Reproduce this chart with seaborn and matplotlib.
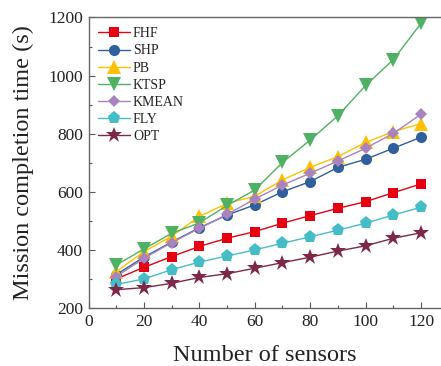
import matplotlib
matplotlib.use("Agg")
import matplotlib.pyplot as plt
from matplotlib.ticker import MultipleLocator
import seaborn as sns
import pandas as pd

# Number of sensors deployed
sensors = [10, 20, 30, 40, 50, 60, 70, 80, 90, 100, 110, 120]

# Mission completion time (s) for each scheme
fhf = [300, 340, 377, 412, 440, 463, 492, 518, 543, 566, 597, 627]
shp = [315, 375, 427, 476, 520, 555, 600, 635, 684, 712, 750, 788]
pb = [325, 394, 447, 515, 560, 585, 641, 684, 721, 770, 807, 835]
ktsp = [348, 403, 457, 493, 553, 606, 701, 778, 862, 966, 1055, 1180]
kmean = [308, 371, 425, 474, 522, 575, 623, 664, 706, 750, 801, 867]
fly = [281, 300, 332, 358, 379, 400, 423, 445, 468, 492, 520, 547]
opt = [263, 270, 285, 305, 318, 337, 356, 375, 396, 414, 440, 459]

names = ["FHF", "SHP", "PB", "KTSP", "KMEAN", "FLY", "OPT"]
series = [fhf, shp, pb, ktsp, kmean, fly, opt]

styles = {
    "FHF": dict(color="#e60012", marker="s", markersize=7.5),
    "SHP": dict(color="#2f5f9c", marker="o", markersize=8),
    "PB": dict(color="#ffc000", marker="^", markersize=10),
    "KTSP": dict(color="#4fb163", marker="v", markersize=10),
    "KMEAN": dict(color="#a883bd", marker="D", markersize=6),
    "FLY": dict(color="#45bdc6", marker="p", markersize=9.5),
    "OPT": dict(color="#7d2849", marker="*", markersize=12),
}

df = pd.DataFrame(
    [(x, v, n) for n, vals in zip(names, series) for x, v in zip(sensors, vals)],
    columns=["sensors", "time", "scheme"],
)

sns.set_theme(style="ticks")
plt.rcParams["font.family"] = ["Liberation Serif", "DejaVu Serif"]

fig = plt.figure(figsize=(4.41, 3.66), dpi=100)
ax = fig.add_axes([0.2007, 0.1585, 0.7993, 0.7937])

for n in names:
    sub = df[df["scheme"] == n]
    st = styles[n]
    sns.lineplot(
        data=sub, x="sensors", y="time", ax=ax, label=n,
        color=st["color"], marker=st["marker"], markersize=st["markersize"],
        markeredgewidth=0, linewidth=1.0,
    )

ax.set_xlim(0, 127.2)
ax.set_ylim(200, 1200)
ax.xaxis.set_major_locator(MultipleLocator(20))
ax.xaxis.set_minor_locator(MultipleLocator(10))
ax.yaxis.set_major_locator(MultipleLocator(200))
ax.yaxis.set_minor_locator(MultipleLocator(100))
ax.tick_params(which="both", direction="in", colors="#555555", labelcolor="#222222",
               top=False, right=False)
ax.tick_params(which="major", length=4, width=0.8, labelsize=12.5, pad=4)
ax.tick_params(which="minor", length=2.5, width=0.8)

for side in ["left", "bottom", "top"]:
    ax.spines[side].set_color("#666666")
    ax.spines[side].set_linewidth(1.0)
ax.spines["right"].set_visible(False)

ax.set_xlabel("Number of sensors", fontsize=17.5, color="#222222", labelpad=11)
ax.set_ylabel("Mission completion time (s)", fontsize=17.5, color="#222222", labelpad=10)

leg = ax.legend(loc="upper left", frameon=False, fontsize=10, handlelength=2.3,
                labelspacing=0.30, handletextpad=0.2, borderaxespad=0.3,
                bbox_to_anchor=(0.0, 1.0))
for t in leg.get_texts():
    t.set_color("#222222")

fig.savefig("out.png", dpi=100)
